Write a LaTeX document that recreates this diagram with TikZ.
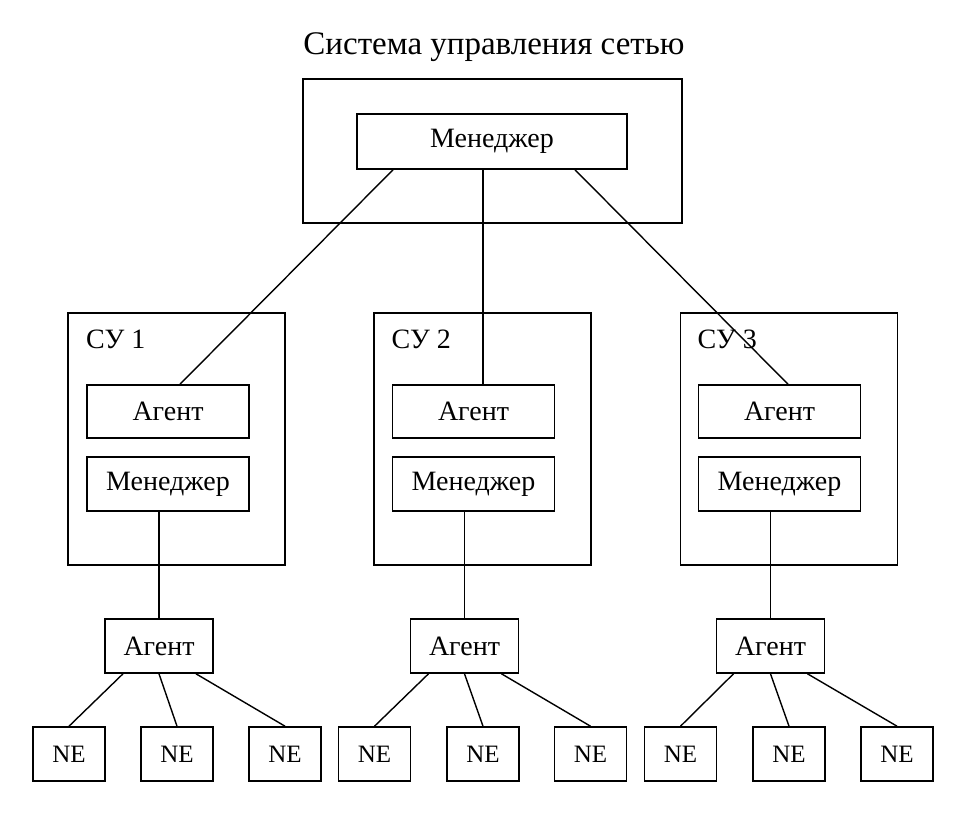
\documentclass[tikz,border=0pt]{standalone}
\usepackage{fontspec}
\setmainfont{Liberation Serif}
\begin{document}
\begin{tikzpicture}[x=1pt,y=-1pt,
  box/.style={draw,line width=1.6pt,inner sep=0pt,minimum height=54pt},
  wire/.style={line width=1.4pt},
  lbl/.style={font=\fontsize{28}{31}\selectfont},
  ne/.style={box,minimum width=72pt,font=\fontsize{25}{28}\selectfont}]
\useasboundingbox (0,0) rectangle (964,816);
\node[font=\fontsize{33}{36}\selectfont,anchor=base] (title) at (494,55) {Система управления сетью};
% top system
\node[box,minimum width=379pt,minimum height=144pt] (outer) at (492.5,151) {};
\node[box,minimum width=270pt,minimum height=55pt,lbl] (tm) at (492,141.5) {Менеджер};
% SU boxes
\foreach \i/\cx/\ax in {1/176.5/168,2/482.5/473.5,3/789/779.5}{
  \node[box,minimum width=217pt,minimum height=252pt] (su\i) at (\cx,439) {};
  \node[lbl,anchor=base west,inner sep=0pt] (sul\i) at (\ax-82,348) {СУ \i};
  \node[box,minimum width=162pt,minimum height=53pt,lbl] (a\i) at (\ax,411.5) {Агент};
  \node[box,minimum width=162pt,lbl] (m\i) at (\ax,484) {Менеджер};
}
% lower agents
\node[box,minimum width=108pt,lbl] (la1) at (159,646) {Агент};
\node[box,minimum width=108pt,lbl] (la2) at (464.5,646) {Агент};
\node[box,minimum width=108pt,lbl] (la3) at (770.5,646) {Агент};
% NE boxes
\foreach \n/\cx in {1/69,2/177,3/285,4/374.5,5/483,6/590.5,7/680.5,8/789,9/897}{
  \node[ne] (ne\n) at (\cx,754) {NE};
}
% top connectors
\draw[wire] ([xshift=-99pt]tm.south) -- ([xshift=12pt]a1.north);
\draw[wire] ([xshift=-9pt]tm.south) -- ([xshift=9.5pt]a2.north);
\draw[wire] ([xshift=83pt]tm.south) -- ([xshift=8.5pt]a3.north);
% manager to lower agent
\foreach \i in {1,2,3}{
  \draw[wire] (la\i.north) -- (la\i.north |- m\i.south);
}
% lower agent to NE
\draw[wire] ([xshift=-36pt]la1.south) -- (ne1.north);
\draw[wire] (la1.south) -- (ne2.north);
\draw[wire] ([xshift=37pt]la1.south) -- (ne3.north);
\draw[wire] ([xshift=-36pt]la2.south) -- (ne4.north);
\draw[wire] (la2.south) -- (ne5.north);
\draw[wire] ([xshift=37pt]la2.south) -- (ne6.north);
\draw[wire] ([xshift=-37pt]la3.south) -- (ne7.north);
\draw[wire] (la3.south) -- (ne8.north);
\draw[wire] ([xshift=37pt]la3.south) -- (ne9.north);
\end{tikzpicture}
\end{document}
